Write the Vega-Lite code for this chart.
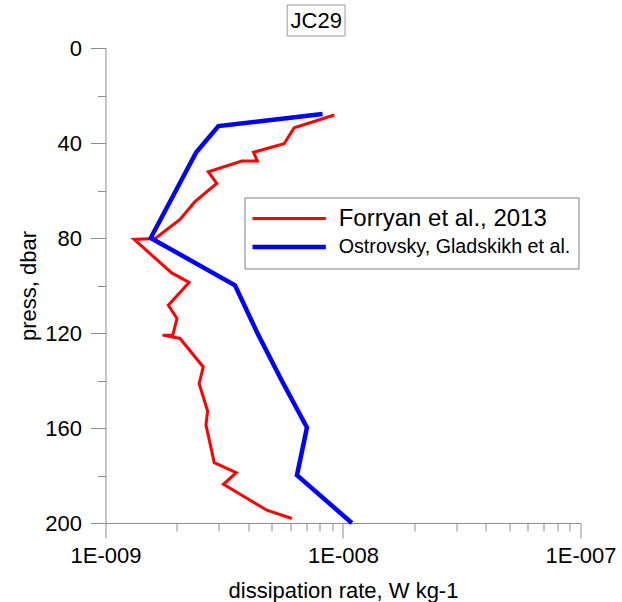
{
  "$schema": "https://vega.github.io/schema/vega-lite/v6.json",
  "autosize": {"type": "none"},
  "padding": {"left": 105.5, "top": 48, "right": 41.5, "bottom": 79},
  "width": 475,
  "height": 475,
  "background": "white",
  "config": {
    "view": {"stroke": null},
    "font": "Liberation Sans",
    "axis": {
      "grid": false,
      "domainColor": "#8c8c8c",
      "tickColor": "#8c8c8c",
      "labelColor": "black",
      "titleColor": "black",
      "labelFont": "Liberation Sans",
      "titleFont": "Liberation Sans",
      "labelFontSize": 22,
      "titleFontSize": 22,
      "titleFontWeight": "normal"
    }
  },
  "layer": [
    {
      "data": {
        "values": [
          {"i": 1, "series": "Forryan et al., 2013", "eps": 9.19e-9, "press": 28.2},
          {"i": 2, "series": "Forryan et al., 2013", "eps": 6.23e-9, "press": 33.6},
          {"i": 3, "series": "Forryan et al., 2013", "eps": 5.65e-9, "press": 40.3},
          {"i": 4, "series": "Forryan et al., 2013", "eps": 4.2e-9, "press": 43.9},
          {"i": 5, "series": "Forryan et al., 2013", "eps": 4.36e-9, "press": 47.6},
          {"i": 6, "series": "Forryan et al., 2013", "eps": 3.75e-9, "press": 47.6},
          {"i": 7, "series": "Forryan et al., 2013", "eps": 2.71e-9, "press": 52.1},
          {"i": 8, "series": "Forryan et al., 2013", "eps": 2.94e-9, "press": 57.0},
          {"i": 9, "series": "Forryan et al., 2013", "eps": 2.38e-9, "press": 64.7},
          {"i": 10, "series": "Forryan et al., 2013", "eps": 2.06e-9, "press": 72.2},
          {"i": 11, "series": "Forryan et al., 2013", "eps": 1.62e-9, "press": 80.2},
          {"i": 12, "series": "Forryan et al., 2013", "eps": 1.32e-9, "press": 80.6},
          {"i": 13, "series": "Forryan et al., 2013", "eps": 1.9e-9, "press": 94.7},
          {"i": 14, "series": "Forryan et al., 2013", "eps": 2.25e-9, "press": 98.7},
          {"i": 15, "series": "Forryan et al., 2013", "eps": 1.84e-9, "press": 108.3},
          {"i": 16, "series": "Forryan et al., 2013", "eps": 2.0e-9, "press": 113.9},
          {"i": 17, "series": "Forryan et al., 2013", "eps": 1.92e-9, "press": 120.9},
          {"i": 18, "series": "Forryan et al., 2013", "eps": 1.74e-9, "press": 120.9},
          {"i": 19, "series": "Forryan et al., 2013", "eps": 2.06e-9, "press": 122.3},
          {"i": 20, "series": "Forryan et al., 2013", "eps": 2.58e-9, "press": 134.3},
          {"i": 21, "series": "Forryan et al., 2013", "eps": 2.48e-9, "press": 141.3},
          {"i": 22, "series": "Forryan et al., 2013", "eps": 2.69e-9, "press": 152.8},
          {"i": 23, "series": "Forryan et al., 2013", "eps": 2.65e-9, "press": 158.8},
          {"i": 24, "series": "Forryan et al., 2013", "eps": 2.87e-9, "press": 174.6},
          {"i": 25, "series": "Forryan et al., 2013", "eps": 3.55e-9, "press": 178.8},
          {"i": 26, "series": "Forryan et al., 2013", "eps": 3.14e-9, "press": 183.7},
          {"i": 27, "series": "Forryan et al., 2013", "eps": 4.78e-9, "press": 194.6},
          {"i": 28, "series": "Forryan et al., 2013", "eps": 6.09e-9, "press": 198.1},
          {"i": 1, "series": "Ostrovsky, Gladskikh et al.", "eps": 8.2e-9, "press": 27.8},
          {"i": 2, "series": "Ostrovsky, Gladskikh et al.", "eps": 2.99e-9, "press": 32.9},
          {"i": 3, "series": "Ostrovsky, Gladskikh et al.", "eps": 2.41e-9, "press": 43.9},
          {"i": 4, "series": "Ostrovsky, Gladskikh et al.", "eps": 1.55e-9, "press": 80.0},
          {"i": 5, "series": "Ostrovsky, Gladskikh et al.", "eps": 3.51e-9, "press": 99.9},
          {"i": 6, "series": "Ostrovsky, Gladskikh et al.", "eps": 4.37e-9, "press": 120.2},
          {"i": 7, "series": "Ostrovsky, Gladskikh et al.", "eps": 5.52e-9, "press": 140.0},
          {"i": 8, "series": "Ostrovsky, Gladskikh et al.", "eps": 7.05e-9, "press": 159.8},
          {"i": 9, "series": "Ostrovsky, Gladskikh et al.", "eps": 6.4e-9, "press": 179.9},
          {"i": 10, "series": "Ostrovsky, Gladskikh et al.", "eps": 1.09e-8, "press": 200.0}
        ]
      },
      "mark": {"type": "line", "clip": false},
      "encoding": {
        "x": {
          "field": "eps",
          "type": "quantitative",
          "scale": {"type": "log", "domain": [1e-9, 1e-7], "nice": false},
          "axis": {
            "title": "dissipation rate, W kg-1",
            "values": [1e-9, 2e-9, 3e-9, 4e-9, 5e-9, 6e-9, 7e-9, 8e-9, 9e-9, 1e-8, 2e-8, 3e-8, 4e-8, 5e-8, 6e-8, 7e-8, 8e-8, 9e-8, 1e-7],
            "labelExpr": "abs(log(datum.value)/LN10 - round(log(datum.value)/LN10)) < 1e-6 ? '1E-00' + (-round(log(datum.value)/LN10)) : ''",
            "tickSize": {"condition": {"test": "abs(log(datum.value)/LN10 - round(log(datum.value)/LN10)) < 1e-6", "value": 15}, "value": 8},
            "labelPadding": 7,
            "titlePadding": 14,
            "labelFlush": false,
            "labelOverlap": false
          }
        },
        "y": {
          "field": "press",
          "type": "quantitative",
          "scale": {"domain": [0, 200], "reverse": true, "nice": false, "zero": false},
          "axis": {
            "title": "press, dbar",
            "values": [0, 20, 40, 60, 80, 100, 120, 140, 160, 180, 200],
            "labelExpr": "datum.value % 40 === 0 ? datum.label : ''",
            "tickSize": {"condition": {"test": "datum.value % 40 === 0", "value": 15}, "value": 8},
            "labelPadding": 9,
            "titlePadding": 4,
            "labelFlush": false,
            "labelOverlap": false
          }
        },
        "order": {"field": "i", "type": "quantitative"},
        "color": {
          "field": "series",
          "type": "nominal",
          "scale": {"domain": ["Forryan et al., 2013", "Ostrovsky, Gladskikh et al."], "range": ["#ff0000", "#0000ff"]},
          "legend": {
            "title": null,
            "orient": "none",
            "legendX": 139,
            "legendY": 149.5,
            "padding": 8,
            "strokeColor": "#808080",
            "fillColor": "white",
            "symbolType": "M-4,0H4",
            "symbolSize": 361,
            "symbolOffset": 25.5,
            "labelOffset": 41,
            "clipHeight": 26,
            "rowPadding": 2.5,
            "labelFont": "Liberation Sans",
            "labelFontSize": 24,
            "labelColor": "black",
            "labelLimit": 400,
            "encode": {
              "labels": {"update": {"fontSize": {"signal": "datum.value === 'Forryan et al., 2013' ? 24 : 19.7"}}},
              "symbols": {"update": {"strokeWidth": {"signal": "datum.value === 'Forryan et al., 2013' ? 3 : 4.5"}}}
            }
          }
        },
        "strokeWidth": {"condition": {"test": "datum.series === 'Forryan et al., 2013'", "value": 3}, "value": 4.5}
      }
    },
    {
      "data": {"values": [{"label": "JC29"}]},
      "mark": {"type": "rect", "fill": "white", "stroke": "#999999", "strokeWidth": 1, "clip": false},
      "encoding": {
        "x": {"datum": 5.82e-9, "type": "quantitative"},
        "x2": {"datum": 1.02e-8},
        "y": {"datum": -18.1, "type": "quantitative"},
        "y2": {"datum": -5.06}
      }
    },
    {
      "data": {"values": [{"label": "JC29"}]},
      "mark": {"type": "text", "font": "Liberation Sans", "fontSize": 22, "color": "black", "align": "center", "baseline": "middle", "clip": false},
      "encoding": {
        "x": {"datum": 7.71e-9, "type": "quantitative"},
        "y": {"datum": -11.2, "type": "quantitative"},
        "text": {"field": "label"}
      }
    }
  ]
}
